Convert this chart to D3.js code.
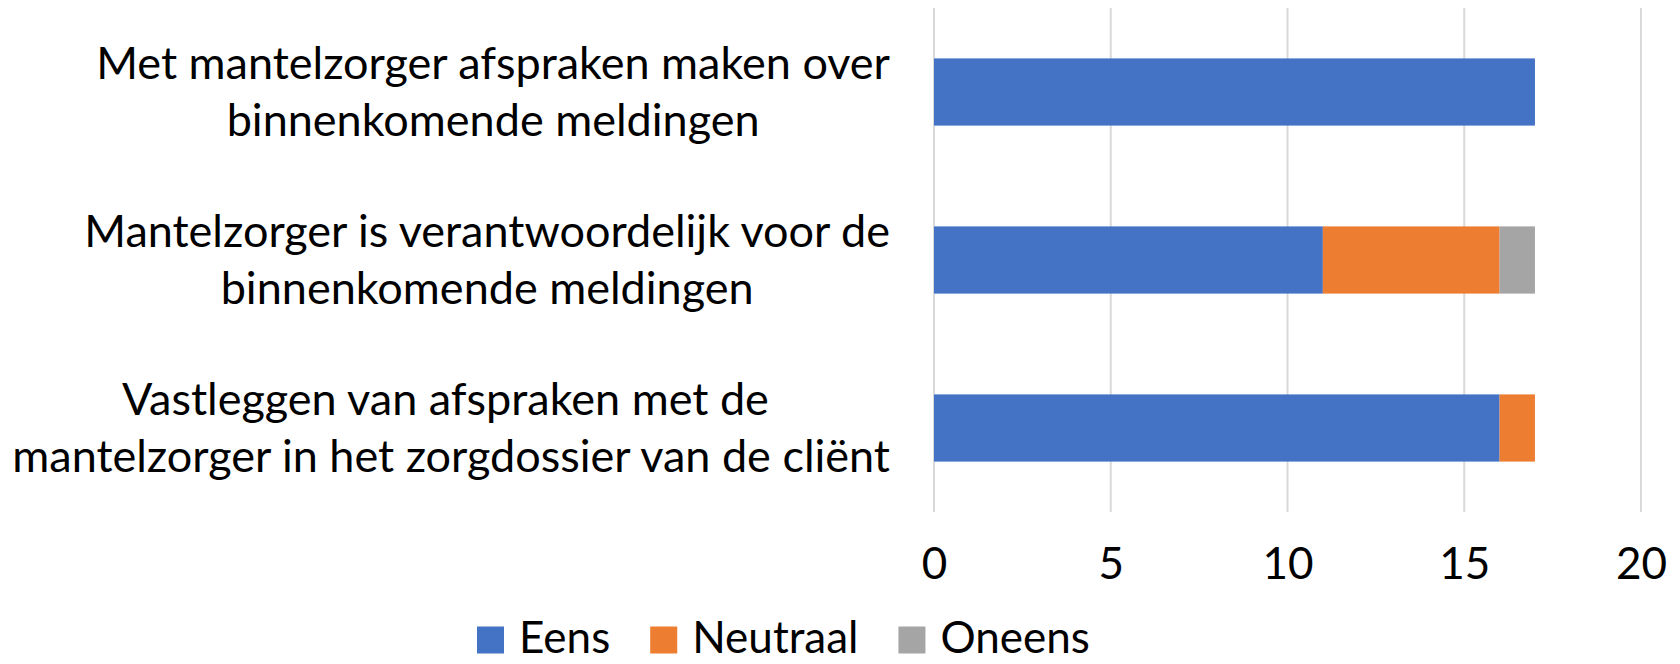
<!DOCTYPE html>
<html>
<head>
<meta charset="utf-8">
<script src="https://cdn.jsdelivr.net/npm/d3@7"></script>
<style>
  body { margin: 0; background: #fff; }
  text { font-family: Lato, "Open Sans", sans-serif; fill: #000; }
</style>
</head>
<body>
<div id="chart"></div>
<script>
// chart data
var categories = [
    "Met mantelzorger afspraken maken over binnenkomende meldingen",
    "Mantelzorger is verantwoordelijk voor de binnenkomende meldingen",
    "Vastleggen van afspraken met de mantelzorger in het zorgdossier van de cliënt"
];
var labelLines = [
    ["Met mantelzorger afspraken maken over", "binnenkomende meldingen"],
    ["Mantelzorger is verantwoordelijk voor de", "binnenkomende meldingen"],
    ["Vastleggen van afspraken met de ", "mantelzorger in het zorgdossier van de cliënt"]
];
var seriesNames = ["Eens", "Neutraal", "Oneens"];
var eens = [17, 11, 16];
var neutraal = [0, 5, 1];
var oneens = [0, 1, 0];
var xTicks = [0, 5, 10, 15, 20];

var colours = ["#4472C4", "#ED7D31", "#A5A5A5"];

// dimensions
var width = 1680, height = 664;
var plot = {left: 934, right: 1641, top: 8, bottom: 512};
var fontSize = 45;

var svg = d3.select("#chart")
    .append("svg")
    .attr("width", width)
    .attr("height", height);

var x = d3.scaleLinear()
    .domain([0, 20])
    .range([plot.left, plot.right]);

var y = d3.scaleBand()
    .domain(categories)
    .range([plot.top, plot.bottom])
    .paddingInner(0.6)
    .paddingOuter(0.3);

// build table for stack
var table = categories.map(function(c, i) {
    return {cat: c, Eens: eens[i], Neutraal: neutraal[i], Oneens: oneens[i]};
});
var stacked = d3.stack().keys(seriesNames)(table);

// gridlines
svg.append("g")
    .selectAll("line")
    .data(xTicks)
    .enter()
    .append("line")
    .attr("x1", function(d) { return x(d); })
    .attr("x2", function(d) { return x(d); })
    .attr("y1", plot.top)
    .attr("y2", plot.bottom)
    .attr("stroke", "#d9d9d9")
    .attr("stroke-width", 2);

// bars
svg.append("g")
    .selectAll("g")
    .data(stacked)
    .enter()
    .append("g")
    .attr("fill", function(d, i) { return colours[i]; })
    .selectAll("rect")
    .data(function(d) { return d; })
    .enter()
    .append("rect")
    .attr("x", function(d) { return x(d[0]); })
    .attr("y", function(d) { return y(d.data.cat); })
    .attr("width", function(d) { return x(d[1]) - x(d[0]); })
    .attr("height", y.bandwidth());

// x axis tick labels
var xAxis = d3.axisBottom(x).tickValues(xTicks).tickSize(0).tickPadding(0);
var xg = svg.append("g")
    .attr("transform", "translate(0,548)")
    .call(xAxis);
xg.select(".domain").remove();
xg.selectAll("text")
    .attr("dy", "0.71em")
    .style("font-family", "Lato, sans-serif")
    .style("font-size", "44px")
    .attr("fill", "#000");

// category labels: lines centred in a block that is right aligned
var labelRight = 890,
    lineHeight = 57;
var catGroups = svg.append("g")
    .selectAll("g")
    .data(categories)
    .enter()
    .append("g");

catGroups.each(function(c, i) {
    var g = d3.select(this);
    var lines = labelLines[i];
    var centre = y(c) + y.bandwidth() / 2;
    var texts = g.selectAll("text")
        .data(lines)
        .enter()
        .append("text")
        .attr("xml:space", "preserve")
        .style("font-size", fontSize + "px")
        .attr("text-anchor", "middle")
        .attr("y", function(d, j) { return centre + (j - (lines.length - 1) / 2) * lineHeight; })
        .attr("dy", "0.35em")
        .text(function(d) { return d; });
    var maxW = d3.max(texts.nodes(), function(n) { return n.getComputedTextLength(); });
    texts.attr("x", labelRight - maxW / 2);
});

// legend
var legend = svg.append("g");
var legendX = 477, legendY = 638, box = 27, gap = 15, itemGap = 40;
var cursor = legendX;
seriesNames.forEach(function(name, i) {
    legend.append("rect")
        .attr("x", cursor)
        .attr("y", legendY + 2 - box / 2)
        .attr("width", box)
        .attr("height", box)
        .attr("fill", colours[i]);
    var t = legend.append("text")
        .attr("x", cursor + box + gap)
        .attr("y", legendY)
        .attr("dy", "0.35em")
        .style("font-size", "44px")
        .text(name);
    cursor += box + gap + t.node().getComputedTextLength() + itemGap;
});
</script>
</body>
</html>
